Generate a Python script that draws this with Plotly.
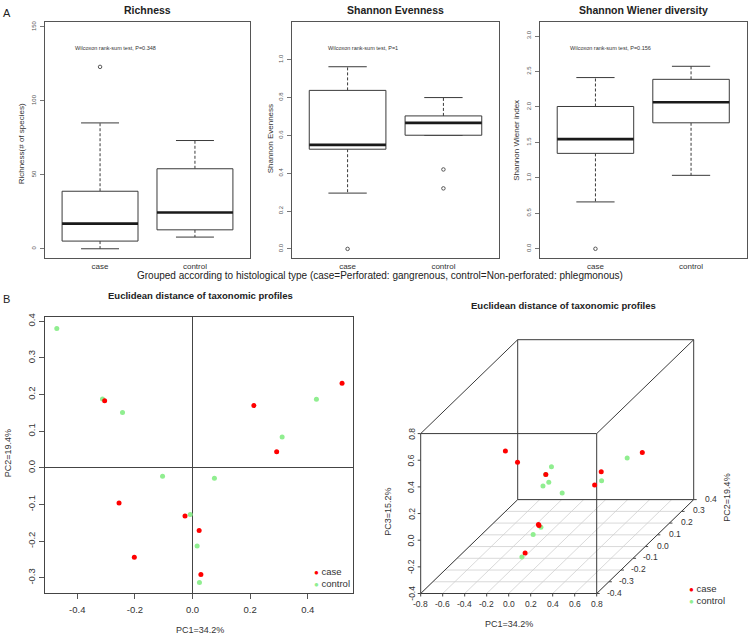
import numpy as np
import plotly.graph_objects as go

W, H = 750, 636
OFF = 0  # body margin is removed by the post script, so the figure starts at the page corner
FONT = "Liberation Sans, Arial, sans-serif"

# ---------------- data ----------------
groups = ["case", "control"]
# boxplot statistics: [lower whisker, Q1, median, Q3, upper whisker]
richness_case = [0.0, 5.2, 17.0, 38.9, 85.1]
richness_control = [7.9, 12.8, 24.5, 54.1, 73.2]
richness_out_case = [123.0]
richness_out_control = []
evenness_case = [0.295, 0.527, 0.550, 0.838, 0.963]
evenness_control = [0.600, 0.601, 0.666, 0.703, 0.800]
evenness_out_case = [0.0]
evenness_out_control = [0.42, 0.32]
wiener_case = [0.661, 1.346, 1.547, 2.007, 2.415]
wiener_control = [1.036, 1.777, 2.067, 2.390, 2.574]
wiener_out_case = [0.0]
wiener_out_control = []

richness_ticks = [0, 50, 100, 150]
evenness_ticks = [0.0, 0.2, 0.4, 0.6, 0.8, 1.0]
wiener_ticks = [0.0, 0.5, 1.0, 1.5, 2.0, 2.5, 3.0]
p_values = ["P=0.348", "P=1", "P=0.156"]

# PCoA coordinates
case_pc1 = [-0.305, -0.255, -0.202, -0.026, 0.023, 0.029, 0.213, 0.292, 0.519]
case_pc2 = [0.183, -0.096, -0.244, -0.131, -0.171, -0.291, 0.170, 0.044, 0.231]
case_pc3 = [-0.020, 0.318, 0.531, -0.119, -0.091, -0.192, 0.012, 0.023, 0.102]
control_pc1 = [-0.471, -0.3125, -0.243, -0.104, 0.076, -0.008, 0.016, 0.024, 0.311, 0.430]
control_pc2 = [0.380, 0.188, 0.151, -0.023, -0.028, -0.127, -0.213, -0.313, 0.084, 0.187]
control_pc3 = [-0.136, -0.024, -0.051, 0.075, 0.027, -0.143, -0.122, -0.203, 0.020, 0.099]

pca_x_ticks = [-0.4, -0.2, 0.0, 0.2, 0.4]
pca_y_ticks = [-0.3, -0.2, -0.1, 0.0, 0.1, 0.2, 0.3, 0.4]
pc1_3d_ticks = [-0.8, -0.6, -0.4, -0.2, 0.0, 0.2, 0.4, 0.6, 0.8]
pc2_3d_ticks = [-0.4, -0.3, -0.2, -0.1, 0.0, 0.1, 0.2, 0.3, 0.4]
pc3_3d_ticks = [-0.4, -0.2, 0.0, 0.2, 0.4, 0.6, 0.8]

RED = "#FF0000"
GREEN = "#90EE90"
BOXC = "#3a3a3a"
FRAME = "#555555"


def fmt(v):
    return f"{v:.1f}".replace("-0.0", "0.0")


def dx(px):
    return (px - OFF) / W


def dy(py):
    return 1 - (py - OFF) / H


fig = go.Figure()
annotations = []


def pa(text, x, y, size, bold=False, angle=0, xanchor="center", color="#222"):
    t = f"<b>{text}</b>" if bold else text
    annotations.append(dict(text=t, x=dx(x), y=dy(y), xref="paper", yref="paper",
                            showarrow=False, textangle=angle, xanchor=xanchor, yanchor="middle",
                            font=dict(size=size, color=color, family=FONT)))


def add_box(xa, ya, pos, st, outs, hw=0.4, cw=0.2):
    lo, q1, med, q3, hi = st
    common = dict(xaxis=xa, yaxis=ya, hoverinfo="skip", showlegend=False)
    fig.add_trace(go.Scatter(x=[pos, pos, None, pos, pos], y=[q3, hi, None, q1, lo], mode="lines",
                             line=dict(color=BOXC, width=1, dash="3px,2px"), **common))
    fig.add_trace(go.Scatter(x=[pos - cw, pos + cw, None, pos - cw, pos + cw], y=[hi, hi, None, lo, lo],
                             mode="lines", line=dict(color=BOXC, width=1), **common))
    fig.add_trace(go.Scatter(x=[pos - hw, pos + hw, pos + hw, pos - hw, pos - hw], y=[q1, q1, q3, q3, q1],
                             mode="lines", line=dict(color=BOXC, width=1), fill="toself",
                             fillcolor="white", **common))
    fig.add_trace(go.Scatter(x=[pos - hw, pos + hw], y=[med, med], mode="lines",
                             line=dict(color="#1a1a1a", width=2.6), **common))
    if outs:
        fig.add_trace(go.Scatter(x=[pos] * len(outs), y=outs, mode="markers",
                                 marker=dict(symbol="circle-open", size=3.5, color="#555",
                                             line=dict(width=1, color="#555")), **common))


panels = [
    ("x", "y", "Richness", "Richness(# of species)", richness_case, richness_control,
     richness_out_case, richness_out_control, richness_ticks, [-6.1, 153.4], (45, 250), 21, 142, 135.6,
     lambda v: f"{v:d}"),
    ("x2", "y2", "Shannon Evenness", "Shannon Evenness", evenness_case, evenness_control,
     evenness_out_case, evenness_out_control, evenness_ticks, [-0.047, 1.2], (292, 499), 270, 137, 1.06, fmt),
    ("x3", "y3", "Shannon Wiener diversity", "Shannon Wiener index", wiener_case, wiener_control,
     wiener_out_case, wiener_out_control, wiener_ticks, [-0.127, 3.2], (540, 746.5), 517, 138.5, 2.83, fmt),
]

top, bottom = 19, 256
for k, (xa, ya, title, ytitle, sc, sn, oc, on, ticks, yr, (x0, x1), ytx, yty, py, tf) in enumerate(panels):
    add_box(xa, ya, 1, sc, oc)
    add_box(xa, ya, 2, sn, on)
    suffix = "" if k == 0 else str(k + 1)
    fig.layout["xaxis" + suffix] = dict(domain=[dx(x0), dx(x1)], range=[0.42, 2.58], anchor=ya,
                                        showline=True, mirror=True, linecolor=FRAME, linewidth=1,
                                        tickvals=[1, 2], ticktext=groups, ticks="outside", ticklen=1,
                                        tickcolor="rgba(0,0,0,0)",
                                        tickfont=dict(size=8, color="#333", family=FONT),
                                        showgrid=False, zeroline=False, fixedrange=True)
    fig.layout["yaxis" + suffix] = dict(domain=[dy(bottom), dy(top)], range=yr, anchor=xa,
                                        showline=True, mirror=True, linecolor=FRAME, linewidth=1,
                                        tickvals=ticks, ticktext=[tf(v) for v in ticks],
                                        ticks="outside", ticklen=4, tickcolor="#777", tickangle=-90,
                                        ticklabelstandoff=2,
                                        tickfont=dict(size=6, color="#555", family=FONT),
                                        showgrid=False, zeroline=False, fixedrange=True)
    pa(title, (x0 + x1) / 2, 7, 10.5, bold=True)
    pa(ytitle, ytx, yty, 8, angle=-90, color="#333")
    annotations.append(dict(text="Wilcoxon rank-sum test, " + p_values[k], x=1.16, y=py, xref=xa, yref=ya,
                            showarrow=False, xanchor="center", yanchor="middle",
                            font=dict(size=5.5, color="#333", family=FONT)))

pa("A", 7, 10, 11, color="#222")
pa("Grouped according to histological type (case=Perforated: gangrenous, control=Non-perforated: phlegmonous)",
   380, 274, 10, color="#222")

# ---------------- B: 2D PCoA ----------------
pa("B", 6, 297, 11, color="#222")
common4 = dict(xaxis="x4", yaxis="y4", hoverinfo="skip", showlegend=False)
fig.add_trace(go.Scatter(x=control_pc1, y=control_pc2, mode="markers",
                         marker=dict(color=GREEN, size=5), **common4))
fig.add_trace(go.Scatter(x=case_pc1, y=case_pc2, mode="markers",
                         marker=dict(color=RED, size=5), **common4))
fig.layout["xaxis4"] = dict(domain=[dx(45), dx(353.3)], range=[-0.512, 0.558], anchor="y4",
                            showline=True, mirror=True, linecolor="#444", linewidth=1,
                            tickvals=pca_x_ticks, ticktext=[fmt(v) for v in pca_x_ticks],
                            ticks="outside", ticklen=5, tickcolor="#555", ticklabelstandoff=3,
                            tickfont=dict(size=9.5, color="#333", family=FONT),
                            showgrid=False, zeroline=True, zerolinecolor="#444", zerolinewidth=1,
                            fixedrange=True)
fig.layout["yaxis4"] = dict(domain=[dy(592.3), dy(315)], range=[-0.34, 0.413], anchor="x4",
                            showline=True, mirror=True, linecolor="#444", linewidth=1,
                            tickvals=pca_y_ticks, ticktext=[fmt(v) for v in pca_y_ticks],
                            ticks="outside", ticklen=5, tickcolor="#555", tickangle=-90,
                            tickfont=dict(size=9.5, color="#333", family=FONT),
                            showgrid=False, zeroline=True, zerolinecolor="#444", zerolinewidth=1,
                            fixedrange=True)
pa("Euclidean distance of taxonomic profiles", 200, 294, 9.5, bold=True)
pa("PC1=34.2%", 200, 629.5, 9, color="#333")
pa("PC2=19.4%", 7.5, 453, 9, angle=-90, color="#333")
pa(f"<span style='color:{RED};font-size:8px'>●</span> case", 312, 571.5, 9.5, xanchor="left", color="#333")
pa(f"<span style='color:{GREEN};font-size:8px'>●</span> control", 312, 583.3, 9.5, xanchor="left", color="#333")

# ---------------- B: 3D PCoA (oblique projection as in scatterplot3d) ----------------
XL, YL, ZL = (-0.8, 0.8), (-0.4, 0.4), (-0.4, 0.8)
ORIG = (420.7, 593.3)
UX = 110.0
UY = (121.25, -117.9)
UZ = -133.9


def proj(x, y, z):
    x = np.asarray(x, float)
    y = np.asarray(y, float)
    z = np.asarray(z, float)
    px = ORIG[0] + (x - XL[0]) * UX + (y - YL[0]) * UY[0]
    py = ORIG[1] + (z - ZL[0]) * UZ + (y - YL[0]) * UY[1]
    return px, py


common5 = dict(xaxis="x5", yaxis="y5", hoverinfo="skip", showlegend=False)


def seg_trace(segs, color, width):
    xs, ys = [], []
    for (a, b) in segs:
        pa_, pb_ = proj(*a), proj(*b)
        xs += [float(pa_[0]), float(pb_[0]), None]
        ys += [float(pa_[1]), float(pb_[1]), None]
    fig.add_trace(go.Scatter(x=xs, y=ys, mode="lines", line=dict(color=color, width=width), **common5))


# floor grid
grid = []
for xv in pc1_3d_ticks:
    grid.append(((xv, YL[0], ZL[0]), (xv, YL[1], ZL[0])))
for yv in pc2_3d_ticks:
    grid.append(((XL[0], yv, ZL[0]), (XL[1], yv, ZL[0])))
seg_trace(grid, "#cfcfcf", 0.8)

# box edges
edges = []
for yv in YL:
    edges += [((XL[0], yv, ZL[0]), (XL[1], yv, ZL[0])), ((XL[0], yv, ZL[1]), (XL[1], yv, ZL[1])),
              ((XL[0], yv, ZL[0]), (XL[0], yv, ZL[1])), ((XL[1], yv, ZL[0]), (XL[1], yv, ZL[1]))]
for xv in XL:
    for zv in ZL:
        edges.append(((xv, YL[0], zv), (xv, YL[1], zv)))
seg_trace(edges, "#3a3a3a", 1)

# tick marks
tx, ty = [], []
for xv in pc1_3d_ticks:
    px, py = proj(xv, YL[0], ZL[0])
    tx += [float(px), float(px), None]
    ty += [float(py), float(py) + 3, None]
for zv in pc3_3d_ticks:
    px, py = proj(XL[0], YL[0], zv)
    tx += [float(px), float(px) - 3, None]
    ty += [float(py), float(py), None]
for yv in pc2_3d_ticks:
    px, py = proj(XL[1], yv, ZL[0])
    tx += [float(px), float(px) + 3, None]
    ty += [float(py), float(py), None]
fig.add_trace(go.Scatter(x=tx, y=ty, mode="lines", line=dict(color="#444", width=1), **common5))

# points
gx, gy = proj(control_pc1, control_pc2, control_pc3)
fig.add_trace(go.Scatter(x=gx, y=gy, mode="markers", marker=dict(color=GREEN, size=5), **common5))
rx, ry = proj(case_pc1, case_pc2, case_pc3)
fig.add_trace(go.Scatter(x=rx, y=ry, mode="markers", marker=dict(color=RED, size=5), **common5))

tickfont3 = dict(size=8.5, color="#333", family=FONT)
for xv in pc1_3d_ticks:
    px, py = proj(xv, YL[0], ZL[0])
    annotations.append(dict(text=fmt(xv), x=float(px), y=float(py) + 10.7, xref="x5", yref="y5",
                            showarrow=False, xanchor="center", yanchor="middle", font=tickfont3))
for zv in pc3_3d_ticks:
    px, py = proj(XL[0], YL[0], zv)
    annotations.append(dict(text=fmt(zv), x=float(px) - 9.5, y=float(py), xref="x5", yref="y5",
                            showarrow=False, xanchor="center", yanchor="middle", textangle=-90,
                            font=tickfont3))
for yv in pc2_3d_ticks:
    px, py = proj(XL[1], yv, ZL[0])
    annotations.append(dict(text=fmt(yv), x=float(px) + 17.5, y=float(py) - 1, xref="x5", yref="y5",
                            showarrow=False, xanchor="center", yanchor="middle", font=tickfont3))

# axis whose units are screen pixels of the 3D panel region
fig.layout["xaxis5"] = dict(domain=[dx(380), dx(750)], range=[380, 750], anchor="y5", visible=False,
                            fixedrange=True)
fig.layout["yaxis5"] = dict(domain=[dy(636), dy(290)], range=[636, 290], anchor="x5", visible=False,
                            fixedrange=True)

pa("Euclidean distance of taxonomic profiles", 563.5, 304, 9.5, bold=True)
pa("PC1=34.2%", 508.5, 624, 9, color="#333")
pa("PC3=15.2%", 388.5, 511.7, 9, angle=-90, color="#333")
pa("PC2=19.4%", 726.7, 497.3, 9, angle=-90, color="#333")
pa(f"<span style='color:{RED};font-size:8px'>●</span> case", 687, 588.3, 9.5, xanchor="left", color="#333")
pa(f"<span style='color:{GREEN};font-size:8px'>●</span> control", 687, 600, 9.5, xanchor="left", color="#333")

fig.update_layout(width=W, height=H, margin=dict(l=0, r=0, t=0, b=0), showlegend=False,
                  paper_bgcolor="white", plot_bgcolor="white", annotations=annotations,
                  font=dict(family=FONT))

fig.write_html("out.html", config={"displayModeBar": False},
               post_script="document.body.style.margin='0px';")
